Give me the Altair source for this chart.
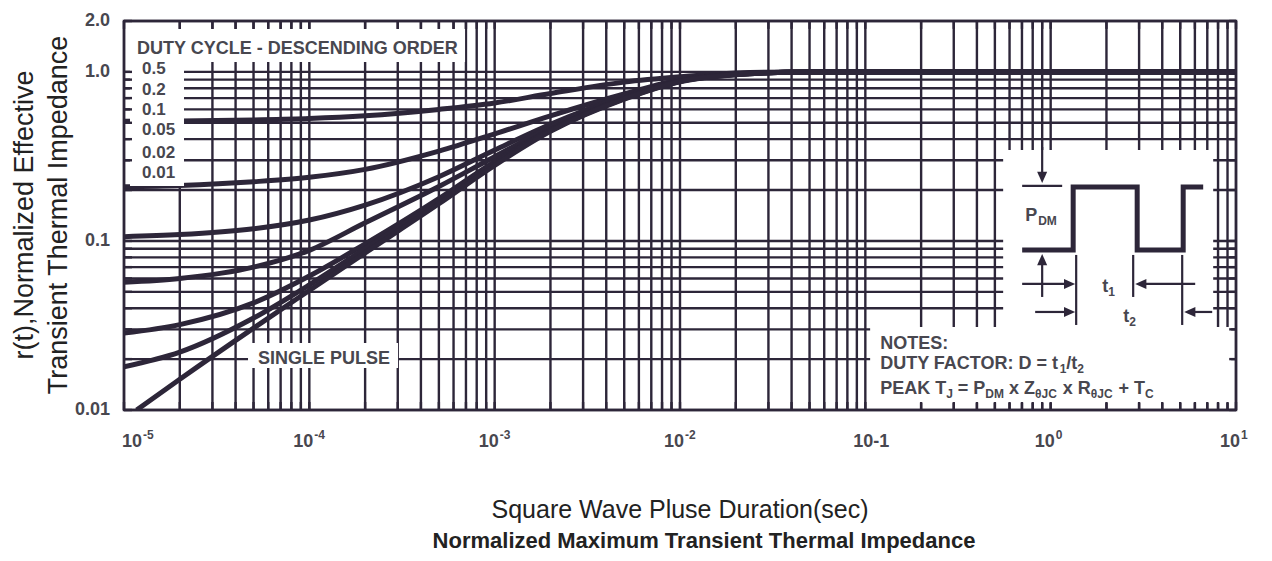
import altair as alt
import pandas as pd

INK = "#2d2639"
GRAY = "#48474f"
FONT = "Liberation Sans"

# ---------------- data ----------------
pulse_t = [1e-5, 2e-5, 5e-5, 1e-4, 2e-4, 5e-4, 1e-3, 2e-3, 5e-3, 1e-2, 2e-2, 5e-2, 1e-1, 1.0, 10.0]
z_050 = [0.51, 0.512, 0.52, 0.53, 0.55, 0.60, 0.655, 0.745, 0.87, 0.935, 0.985, 1.0, 1.0, 1.0, 1.0]
z_020 = [0.209, 0.213, 0.224, 0.238, 0.265, 0.34, 0.43, 0.55, 0.74, 0.90, 0.975, 1.0, 1.0, 1.0, 1.0]
z_010 = [0.106, 0.109, 0.118, 0.133, 0.163, 0.24, 0.345, 0.49, 0.72, 0.89, 0.97, 1.0, 1.0, 1.0, 1.0]
z_005 = [0.057, 0.06, 0.07, 0.088, 0.128, 0.21, 0.315, 0.47, 0.71, 0.885, 0.968, 1.0, 1.0, 1.0, 1.0]
z_002 = [0.0285, 0.032, 0.043, 0.062, 0.096, 0.178, 0.295, 0.455, 0.70, 0.88, 0.965, 1.0, 1.0, 1.0, 1.0]
z_001 = [0.018, 0.022, 0.035, 0.055, 0.09, 0.172, 0.288, 0.45, 0.695, 0.878, 0.964, 1.0, 1.0, 1.0, 1.0]
single_t = [1.17e-5, 2e-5, 5e-5, 1e-4, 2e-4, 5e-4, 1e-3, 2e-3, 5e-3, 1e-2, 2e-2, 5e-2, 1e-1, 1.0, 10.0]
z_single = [0.01, 0.0152, 0.0305, 0.051, 0.085, 0.166, 0.28, 0.445, 0.69, 0.875, 0.963, 1.0, 1.0, 1.0, 1.0]

duty_labels = ["0.5", "0.2", "0.1", "0.05", "0.02", "0.01"]
y_tick_values = [0.01, 0.1, 1.0, 2.0]
y_tick_text = ["0.01", "0.1", "1.0", "2.0"]
x_tick_values = [1e-5, 1e-4, 1e-3, 1e-2, 1e-1, 1.0, 10.0]
x_tick_base = ["10", "10", "10", "10", "10-1", "10", "10"]
x_tick_exp = ["-5", "-4", "-3", "-2", "", "0", "1"]

x_grid = [k * 10.0 ** n for n in range(-5, 1) for k in range(1, 10)] + [10.0]
y_grid = [k * 10.0 ** n for n in (-2, -1) for k in range(1, 10)] + [1.0, 2.0]


# ---------------- helpers: reference-layout position -> data units ----------------
def X(px):
    return 10 ** ((px - 124.0) / 185.3 - 5)


def Y(py):
    return 10 ** ((410.0 - py) / 169.0 - 2)


W = {" ": 278, "=": 584, "+": 584, "x": 556, "/": 278, ":": 333, "-": 333, "t": 333,
     "θ": 611, "A": 722, "C": 722, "D": 722, "E": 667, "F": 611, "J": 556, "K": 722,
     "M": 833, "O": 778, "P": 667, "R": 722, "T": 611, "U": 722, "Y": 667, "Z": 611,
     "1": 556, "2": 556}


def tw(s, size):
    return sum(W.get(c, 600) for c in s) * size / 1000.0


xs = alt.Scale(type="log", domain=[1e-5, 10], nice=False)
ys = alt.Scale(type="log", domain=[0.01, 2.0], nice=False)

# ---------------- grid ----------------
gv = alt.Chart(pd.DataFrame({"x": x_grid})).mark_rule(color=INK, strokeWidth=2.4).encode(
    x=alt.X("x:Q", scale=xs, axis=None))
gh = alt.Chart(pd.DataFrame({"y": y_grid})).mark_rule(color=INK, strokeWidth=2.4).encode(
    y=alt.Y("y:Q", scale=ys, axis=None))

# ---------------- curves ----------------
rows = []
for name, vals in zip(duty_labels, [z_050, z_020, z_010, z_005, z_002, z_001]):
    for t, z in zip(pulse_t, vals):
        rows.append({"series": name, "t": t, "z": z})
for t, z in zip(single_t, z_single):
    rows.append({"series": "single", "t": t, "z": z})
curves = alt.Chart(pd.DataFrame(rows)).mark_line(
    color=INK, strokeWidth=5, interpolate="monotone", clip=True).encode(
    x=alt.X("t:Q", scale=xs, axis=None),
    y=alt.Y("z:Q", scale=ys, axis=None),
    detail="series:N")

# ---------------- white label boxes ----------------
boxes_px = [(130, 29, 465, 62), (130, 62, 184, 186), (248, 343, 398, 368),
            (1003, 150, 1213, 330), (870, 327, 1231, 403)]
bdf = pd.DataFrame([{"x": X(a), "x2": X(c), "y": Y(b), "y2": Y(d)} for a, b, c, d in boxes_px])
boxes = alt.Chart(bdf).mark_rect(fill="white").encode(
    x=alt.X("x:Q", scale=xs, axis=None), x2="x2:Q",
    y=alt.Y("y:Q", scale=ys, axis=None), y2="y2:Q")

# ---------------- frame ticks ----------------
tk = []
for v in x_grid:
    tk.append({"x": v, "x2": v, "y": 2.0, "y2": Y(29)})
    tk.append({"x": v, "x2": v, "y": 0.01, "y2": Y(402)})
for v in y_grid:
    tk.append({"x": 1e-5, "x2": X(132), "y": v, "y2": v})
    tk.append({"x": 10.0, "x2": X(1229), "y": v, "y2": v})
ticks = alt.Chart(pd.DataFrame(tk)).mark_rule(color=INK, strokeWidth=2.4).encode(
    x=alt.X("x:Q", scale=xs, axis=None), x2="x2:Q",
    y=alt.Y("y:Q", scale=ys, axis=None), y2="y2:Q")

# ---------------- annotation texts ----------------
ann = [("DUTY CYCLE - DESCENDING ORDER", 137, 54, 18)]
for lab, base in zip(duty_labels, [74, 95, 115, 135, 158, 178]):
    ann.append((lab, 142, base, 17))
ann.append(("SINGLE PULSE", 258, 364, 18))
ann.append(("NOTES:", 880, 349, 18))


def segs(parts, x0, base):
    out = []
    x = x0
    for s, sub in parts:
        size = 12 if sub else 18
        lead = len(s) - len(s.lstrip(" "))
        x += tw(" " * lead, size)
        body = s.lstrip(" ")
        out.append((body, x, base + (4 if sub else 0), size))
        x += tw(body, size)
    return out


ann += segs([("DUTY FACTOR: D = t", False), ("1", True), ("/t", False), ("2", True)], 880, 369)
ann += segs([("PEAK T", False), ("J", True), (" = P", False), ("DM", True), (" x Z", False),
             ("θJC", True), (" x R", False), ("θJC", True), (" + T", False), ("C", True)], 880, 394)
ann += [("P", 1025, 221, 18), ("DM", 1038, 225, 12),
        ("t", 1102, 292, 18), ("1", 1108, 296, 12),
        ("t", 1123, 322, 18), ("2", 1129, 326, 12)]
adf = pd.DataFrame([{"text": s, "x": X(a), "y": Y(b), "size": sz} for s, a, b, sz in ann])
notes = alt.Chart(adf).mark_text(align="left", baseline="alphabetic", font=FONT,
                                 fontWeight="bold", color=GRAY).encode(
    x=alt.X("x:Q", scale=xs, axis=None), y=alt.Y("y:Q", scale=ys, axis=None),
    text="text:N", size=alt.Size("size:Q", scale=None))

# ---------------- pulse diagram ----------------
wave_px = [(1022, 250), (1073, 250), (1073, 187), (1137, 187), (1137, 250),
           (1183, 250), (1183, 187), (1203, 187)]
wdf = pd.DataFrame([{"o": i, "x": X(a), "y": Y(b)} for i, (a, b) in enumerate(wave_px)])
wave = alt.Chart(wdf).mark_line(color=INK, strokeWidth=5, strokeJoin="miter").encode(
    x=alt.X("x:Q", scale=xs, axis=None), y=alt.Y("y:Q", scale=ys, axis=None), order="o:Q")

thin_px = [(1022, 186, 1062, 186), (1042, 147, 1042, 176), (1042, 297, 1042, 262),
           (1076, 255, 1076, 325), (1133, 255, 1133, 297), (1182, 255, 1182, 325),
           (1022, 284, 1066, 284), (1195, 284, 1143, 284),
           (1035, 312, 1066, 312), (1212, 312, 1192, 312)]
tdf = pd.DataFrame([{"x": X(a), "y": Y(b), "x2": X(c), "y2": Y(d)} for a, b, c, d in thin_px])
thin = alt.Chart(tdf).mark_rule(color=INK, strokeWidth=2.2).encode(
    x=alt.X("x:Q", scale=xs, axis=None), x2="x2:Q",
    y=alt.Y("y:Q", scale=ys, axis=None), y2="y2:Q")

RIGHT = "M0,0L-1,-0.45L-1,0.45Z"
LEFT = "M0,0L1,-0.45L1,0.45Z"
DOWN = "M0,0L-0.45,-1L0.45,-1Z"
UP = "M0,0L-0.45,1L0.45,1Z"
heads_px = [(1042, 183, DOWN), (1042, 254, UP), (1075, 284, RIGHT), (1135, 284, LEFT),
            (1075, 312, RIGHT), (1184, 312, LEFT)]
hdf = pd.DataFrame([{"x": X(a), "y": Y(b), "shape": s} for a, b, s in heads_px])
heads = alt.Chart(hdf).mark_point(filled=True, color=INK, opacity=1, size=500).encode(
    x=alt.X("x:Q", scale=xs, axis=None), y=alt.Y("y:Q", scale=ys, axis=None),
    shape=alt.Shape("shape:N", scale=None))

# ---------------- axis labels ----------------
ylab = alt.Chart(pd.DataFrame({"v": y_tick_values, "t": y_tick_text})).mark_text(
    align="right", baseline="middle", font=FONT, fontWeight="bold", fontSize=18,
    color=GRAY, dx=-14).encode(
    x=alt.value(0), y=alt.Y("v:Q", scale=ys, axis=None), text="t:N")

xdf = pd.DataFrame({"v": x_tick_values, "base": x_tick_base, "exp": x_tick_exp})
xnorm = xdf.iloc[[1, 2, 3, 5, 6]]
xfirst = xdf.iloc[[0]]
xplain = xdf.iloc[[4]]
XB = 426


def xl(df, col, align, dx, dy, size):
    return alt.Chart(df).mark_text(align=align, baseline="alphabetic", font=FONT,
                                   fontWeight="bold", fontSize=size, color=GRAY, dx=dx, dy=dy).encode(
        x=alt.X("v:Q", scale=xs, axis=None), y=alt.value(XB), text=f"{col}:N")


xlabels = [xl(xnorm, "base", "right", 4, 0, 18), xl(xnorm, "exp", "left", 5, -8, 12),
           xl(xfirst, "base", "right", 18, 0, 18), xl(xfirst, "exp", "left", 19, -8, 12),
           xl(xplain, "base", "center", 6, 0, 18)]

one = pd.DataFrame({"a": [0]})


def ptext(txt, x, y, size, weight="normal", angle=0):
    return alt.Chart(one).mark_text(text=txt, font=FONT, fontSize=size, fontWeight=weight,
                                    color="#222222", angle=angle, align="center",
                                    baseline="middle").encode(x=alt.value(x), y=alt.value(y))


titles = [ptext("r(t),Normalized Effective", -99, 194, 27, angle=270),
          ptext("Transient Thermal Impedance", -65, 194, 27, angle=270),
          ptext("Square Wave Pluse Duration(sec)", 556, 489, 25),
          ptext("Normalized Maximum Transient Thermal Impedance", 580, 520, 22, weight="bold")]

chart = alt.layer(gv, gh, curves, boxes, ticks, notes, wave, thin, heads, ylab,
                  *xlabels, *titles).properties(
    width=1112, height=389,
    padding={"left": 116, "top": 13, "right": 16, "bottom": 143},
    autosize="none",
).configure_view(stroke=INK, strokeWidth=2.5)

chart.save("out.html", embed_options={"renderer": "svg", "actions": False})
